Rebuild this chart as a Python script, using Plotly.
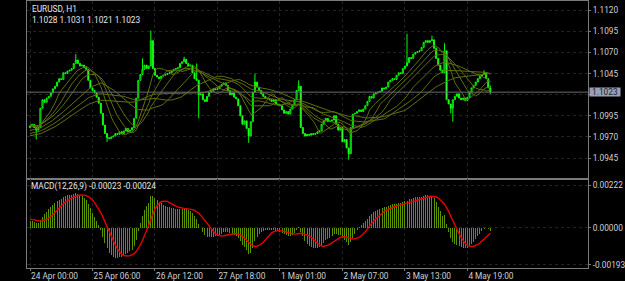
import plotly.graph_objects as go
import pandas as pd
import numpy as np

symbol_title = "EURUSD, H1"
ohlc_text = "1.1028 1.1031 1.1021 1.1023"
macd_title = "MACD(12,26,9) -0.00023 -0.00024"

# hourly closes before the first visible bar (only used to warm up the indicators)
prior_close = [
    1.0962, 1.0960, 1.0963, 1.0961, 1.0958, 1.0960, 1.0962, 1.0959, 1.0957, 1.0960,
    1.0963, 1.0961, 1.0964, 1.0962, 1.0960, 1.0963, 1.0966, 1.0964, 1.0962, 1.0965,
    1.0967, 1.0965, 1.0968, 1.0970, 1.0968, 1.0966, 1.0969, 1.0971, 1.0970, 1.0973,
    1.0975, 1.0973, 1.0976, 1.0978, 1.0976, 1.0979, 1.0981, 1.0979, 1.0982, 1.0984,
    1.0982, 1.0985, 1.0987, 1.0985, 1.0983, 1.0986, 1.0984, 1.0982, 1.0985, 1.0983,
]

first_open = 1.0981

# visible H1 closes, 24 Apr 00:00 onwards
close = [
    1.0983, 1.0985, 1.0981, 1.0978, 1.0981, 1.1004, 1.1014, 1.1011, 1.1016, 1.1018,
    1.1022, 1.1027, 1.1030, 1.1035, 1.1039, 1.1038, 1.1046, 1.1045, 1.1048, 1.1049,
    1.1051, 1.1057, 1.1061, 1.1057, 1.1054, 1.1055, 1.1052, 1.1050, 1.1037, 1.1028,
    1.1025, 1.1022, 1.1017, 1.1010, 1.0998, 1.0984, 1.0974, 1.0969, 1.0968, 1.0970,
    1.0971, 1.0974, 1.0973, 1.0976, 1.0974, 1.0977, 1.0980, 1.0976, 1.0978, 1.0981,
    1.0992, 1.1016, 1.1037, 1.1044, 1.1050, 1.1055, 1.1051, 1.1054, 1.1084, 1.1051,
    1.1043, 1.1041, 1.1039, 1.1042, 1.1043, 1.1044, 1.1045, 1.1046, 1.1048, 1.1050,
    1.1051, 1.1052, 1.1057, 1.1059, 1.1062, 1.1057, 1.1054, 1.1055, 1.1046, 1.1039,
    1.1037, 1.1020, 1.1021, 1.1014, 1.1012, 1.1018, 1.1023, 1.1025, 1.1027, 1.1026,
    1.1027, 1.1030, 1.1032, 1.1034, 1.1031, 1.1025, 1.1020, 1.1022, 1.1017, 1.1015,
    1.1007, 1.0995, 1.0985, 1.0989, 1.0980, 1.0971, 1.0988, 1.1023, 1.1035, 1.1029,
    1.1025, 1.1021, 1.1018, 1.1016, 1.1015, 1.1014, 1.1012, 1.1014, 1.1009, 1.1008,
    1.1007, 1.1002, 1.0998, 1.1000, 1.0997, 1.1003, 1.1008, 1.1014, 1.1025, 1.1030,
    1.0981, 1.0974, 1.0971, 1.0973, 1.0972, 1.0974, 1.0973, 1.0974, 1.0976, 1.0977,
    1.0985, 1.0989, 1.0992, 1.0988, 1.0989, 1.0990, 1.0995, 1.0985, 1.0978, 1.0981,
    1.0964, 1.0967, 1.0957, 1.0950, 1.0981, 1.0997, 1.0998, 1.1000, 1.1002, 1.1000,
    1.1003, 1.1007, 1.1012, 1.1018, 1.1016, 1.1021, 1.1022, 1.1023, 1.1024, 1.1028,
    1.1027, 1.1029, 1.1035, 1.1037, 1.1039, 1.1038, 1.1043, 1.1046, 1.1045, 1.1051,
    1.1054, 1.1058, 1.1064, 1.1063, 1.1068, 1.1070, 1.1071, 1.1072, 1.1076, 1.1082,
    1.1084, 1.1082, 1.1084, 1.1085, 1.1075, 1.1063, 1.1055, 1.1049, 1.1046, 1.1072,
    1.1014, 1.1009, 1.1004, 1.1014, 1.1018, 1.1021, 1.1016, 1.1014, 1.1016, 1.1013,
    1.1017, 1.1023, 1.1028, 1.1031, 1.1035, 1.1039, 1.1042, 1.1044, 1.1046, 1.1039,
    1.1028, 1.1023,
]

# (bar, price) for the visible wicks beyond the bodies
wick_high = [(22, 1.1068), (54, 1.1063), (58, 1.1096), (74, 1.1065), (80, 1.1057),
             (108, 1.1045), (129, 1.1037), (181, 1.1092), (193, 1.1090), (199, 1.1081),
             (218, 1.1049), (221, 1.1031)]
wick_low = [(3, 1.0967), (37, 1.0964), (81, 1.0992), (105, 1.0963), (153, 1.0943),
            (202, 1.0998), (203, 1.0988), (221, 1.1021)]

ma_periods = [10, 15, 20, 30, 40, 50]
macd_fast, macd_slow, macd_sig = 12, 26, 9
last_price = 1.1023

tick_bars = [0, 30, 60, 90, 120, 150, 180, 210]
tick_labels = ["24 Apr 00:00", "25 Apr 06:00", "26 Apr 12:00", "27 Apr 18:00",
               "1 May 01:00", "2 May 07:00", "3 May 13:00", "4 May 19:00"]
price_ticks = [1.1120, 1.1095, 1.1070, 1.1045, 1.1020, 1.0995, 1.0970, 1.0945]
hidden_price_label = 1.1020   # covered by the last-price tag in the reference
macd_ticks = [0.00222, 0.0, -0.00193]

# ---------------------------------------------------------------
n = len(close)
x = np.arange(n)
opens = [first_open] + close[:-1]
highs = [max(o, c) for o, c in zip(opens, close)]
lows = [min(o, c) for o, c in zip(opens, close)]
for i, v in wick_high:
    highs[i] = v
for i, v in wick_low:
    lows[i] = v

full = pd.Series(prior_close + close)
npre = len(prior_close)

fig = go.Figure()

fig.add_trace(go.Candlestick(
    x=x, open=opens, high=highs, low=lows, close=close,
    increasing=dict(line=dict(color="#00ff00", width=1), fillcolor="#000000"),
    decreasing=dict(line=dict(color="#00ff00", width=1), fillcolor="#d8ffd8"),
    whiskerwidth=0, xaxis="x", yaxis="y", hoverinfo="skip", showlegend=False))

for p in ma_periods:
    ma = full.rolling(p, min_periods=1).mean().iloc[npre:]
    fig.add_trace(go.Scatter(x=x, y=ma.values, mode="lines",
                             line=dict(color="rgb(96,112,14)", width=1),
                             xaxis="x", yaxis="y", hoverinfo="skip", showlegend=False))

ema_f = full.ewm(span=macd_fast, adjust=False).mean()
ema_s = full.ewm(span=macd_slow, adjust=False).mean()
macd = ema_f - ema_s
signal = macd.rolling(macd_sig, min_periods=1).mean()

fig.add_trace(go.Bar(x=x, y=macd.iloc[npre:].values, width=0.48,
                     marker=dict(color="rgba(92,150,0,0.99)", line=dict(width=0)),
                     xaxis="x2", yaxis="y2", hoverinfo="skip", showlegend=False))
fig.add_trace(go.Scatter(x=x, y=signal.iloc[npre:].values, mode="lines",
                         line=dict(color="#e80000", width=1.4),
                         xaxis="x2", yaxis="y2", hoverinfo="skip", showlegend=False))

W, H = 625, 281
ml, mr = 27, 37
pw = W - ml - mr
FONT = "Roboto"
frame = "#7a7a7a"
grid = "#232323"
xr = [-1.44, 267.9]

axis_common = dict(showline=True, mirror=True, linecolor=frame, linewidth=1,
                   zeroline=False, gridcolor=grid, griddash="dot", gridwidth=1)

fig.update_layout(
    width=W, height=H, margin=dict(l=ml, r=mr, t=0, b=0),
    paper_bgcolor="#000000", plot_bgcolor="#000000",
    hovermode=False, bargap=0,
    font=dict(family=FONT, size=8.3, color="#d0d0d0"),
    xaxis=dict(domain=[0, 1], anchor="y", range=xr, tickvals=tick_bars,
               showticklabels=False, ticks="", showgrid=True,
               rangeslider=dict(visible=False), **axis_common),
    xaxis2=dict(domain=[0, 1], anchor="y2", range=xr, tickvals=tick_bars,
                ticktext=tick_labels, ticks="outside", ticklen=2, tickcolor=frame,
                ticklabelposition="outside right", showgrid=True,
                tickfont=dict(family=FONT, size=8.3, color="#d0d0d0"), **axis_common),
    yaxis=dict(domain=[0.3616, 1], anchor="x", side="right", range=[1.0920, 1.1131],
               tickvals=price_ticks,
               ticktext=["" if v == hidden_price_label else f"{v:.4f}" for v in price_ticks],
               ticks="outside", ticklen=2, tickcolor=frame, showgrid=True,
               tickfont=dict(family=FONT, size=8.3, color="#d0d0d0"), **axis_common),
    yaxis2=dict(domain=[0.0416, 0.3616], anchor="x2", side="right",
                range=[-0.00211, 0.00253], tickvals=macd_ticks,
                ticktext=[f"{v:.5f}" for v in macd_ticks],
                ticks="outside", ticklen=2, tickcolor=frame, showgrid=True,
                tickfont=dict(family=FONT, size=8.3, color="#d0d0d0"), **axis_common),
)

fig.add_shape(type="line", xref="x domain", yref="y", x0=0, x1=1,
              y0=last_price, y1=last_price, line=dict(color="#6a6a72", width=1))


def px_x(px):
    return (px - ml) / pw


def px_y(py):
    return 1 - py / H


fig.add_annotation(text=symbol_title, xref="paper", yref="paper", x=px_x(30), y=px_y(8.5),
                   xanchor="left", yanchor="middle", showarrow=False,
                   font=dict(family=FONT, size=8.3, color="#e6e6e6"))
fig.add_annotation(text=ohlc_text, xref="paper", yref="paper", x=px_x(30), y=px_y(19),
                   xanchor="left", yanchor="middle", showarrow=False,
                   font=dict(family=FONT, size=8.3, color="#e6e6e6"))
fig.add_annotation(text=macd_title, xref="paper", yref="paper", x=px_x(28.5), y=px_y(187),
                   xanchor="left", yanchor="middle", showarrow=False,
                   font=dict(family=FONT, size=8.3, color="#e6e6e6"))
fig.add_annotation(text=f"{last_price:.4f}", xref="paper", yref="y", x=px_x(588.5), y=last_price,
                   xanchor="left", yanchor="middle", showarrow=False,
                   bgcolor="#97a1b3", borderpad=0, width=30, height=8,
                   font=dict(family=FONT, size=8.3, color="#202030"))

fig.write_html("out.html")
